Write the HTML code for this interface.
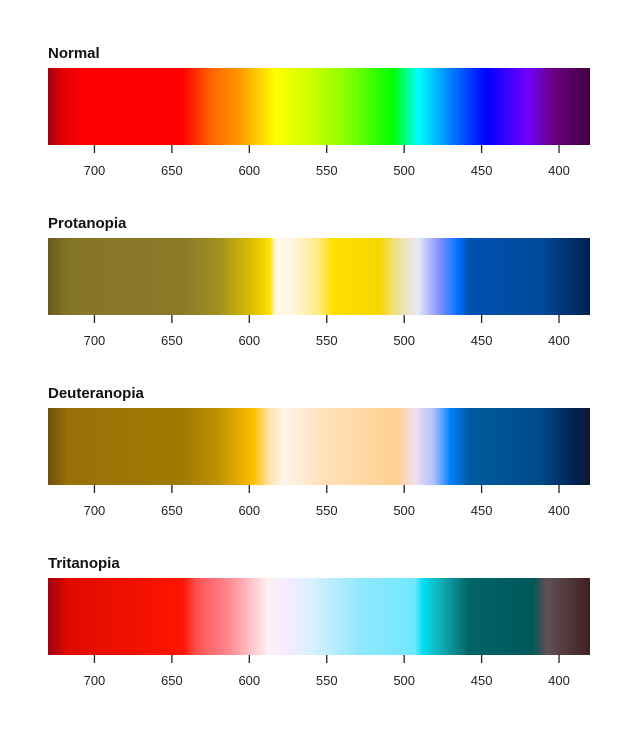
<!DOCTYPE html>
<html><head><meta charset="utf-8"><style>
body{margin:0;background:#fff;width:640px;height:742px;overflow:hidden}
svg{display:block}
text{font-family:"Liberation Sans",Arial,sans-serif}
</style></head><body>
<svg id="chart" width="640" height="742" viewBox="0 0 640 742"></svg>
<script>
const panelTitles = ["Normal","Protanopia","Deuteranopia","Tritanopia"];
const tickValues = [700,650,600,550,500,450,400];
const normalNm = [730,721,707,643,624,606,583,560,537,507,491,470,447,421,403,380];
const normalColors = ["#a00010","#e00000","#ff0000","#ff0000","#ff6600","#ff9900","#ffff00","#ccff00","#88ff00","#00ff00","#00ffff","#0080ff","#0000ff","#7000ff","#6a0080","#400040"];
const protNm = [730,717,643,620,597,587,583,574,555,546,516,505,491,477,465,458,412,380];
const protColors = ["#6a5a20","#857526","#8a7a28","#a09020","#e0c000","#ffe000","#fff8e0","#fff8e8","#ffe880","#ffe000","#f5d800","#f0e090","#e8e8f8","#8090ff","#0070ff","#0050b0","#004a9a","#002050"];
const deutNm = [730,717,643,620,597,588,578,551,505,493,481,470,458,412,389,380];
const deutColors = ["#6e5008","#9a7008","#a07a00","#c09000","#ffc000","#ffe0a0","#fff4ec","#ffe0b8","#ffd090","#f0e0f0","#b0c0ff","#0080ff","#005aa0","#004a88","#002050","#101830"];
const tritNm = [730,717,643,634,611,588,578,560,528,493,488,477,458,417,408,380];
const tritColors = ["#a00010","#e00a00","#ff1500","#ff5050","#ff9098","#fff0f4","#f8ecff","#d8f0ff","#90e8ff","#70e8ff","#00e0f0","#10b0b8","#006468","#00585a","#605055","#402020"];

const nmStops = [normalNm, protNm, deutNm, tritNm];
const colorStops = [normalColors, protColors, deutColors, tritColors];
const NS = "http://www.w3.org/2000/svg";
const svg = document.getElementById("chart");
const X0 = 48, X1 = 590, NM0 = 730, NM1 = 380;
function xScale(nm){ return X0 + (NM0 - nm) / (NM0 - NM1) * (X1 - X0); }
const defs = document.createElementNS(NS, "defs");
svg.appendChild(defs);
const slugs = ["normal","protanopia","deuteranopia","tritanopia"];
panelTitles.forEach((title, i) => {
  const top = 68 + i * 170;
  const g = document.createElementNS(NS, "g");
  
  
  svg.appendChild(g);
  const grad = document.createElementNS(NS, "linearGradient");
  grad.setAttribute("id", "grad" + i);
  grad.setAttribute("gradientUnits", "userSpaceOnUse");
  grad.setAttribute("x1", X0); grad.setAttribute("x2", X1);
  grad.setAttribute("y1", 0); grad.setAttribute("y2", 0);
  nmStops[i].forEach((nm, k) => {
    const s = document.createElementNS(NS, "stop");
    s.setAttribute("offset", ((xScale(nm) - X0) / (X1 - X0)).toFixed(4));
    s.setAttribute("stop-color", colorStops[i][k]);
    grad.appendChild(s);
  });
  defs.appendChild(grad);
  const t = document.createElementNS(NS, "text");
  
  
  t.setAttribute("x", 48); t.setAttribute("y", top - 10);
  t.setAttribute("font-size", "15"); t.setAttribute("font-weight", "bold");
  t.setAttribute("fill", "#111");
  t.textContent = title;
  g.appendChild(t);
  const r = document.createElementNS(NS, "rect");
  
  
  r.setAttribute("x", X0); r.setAttribute("y", top);
  r.setAttribute("width", X1 - X0); r.setAttribute("height", 77);
  r.setAttribute("fill", "url(#grad" + i + ")");
  g.appendChild(r);
  tickValues.forEach(v => {
    const x = xScale(v);
    const l = document.createElementNS(NS, "line");
    
    
    l.setAttribute("x1", x); l.setAttribute("x2", x);
    l.setAttribute("y1", top + 77); l.setAttribute("y2", top + 85);
    l.setAttribute("stroke", "#222"); l.setAttribute("stroke-width", "1.3");
    g.appendChild(l);
    const tl = document.createElementNS(NS, "text");
    
    
    tl.setAttribute("x", x); tl.setAttribute("y", top + 107);
    tl.setAttribute("text-anchor", "middle");
    tl.setAttribute("font-size", "13"); tl.setAttribute("fill", "#222");
    tl.textContent = v;
    g.appendChild(tl);
  });
});
</script>
</body></html>
